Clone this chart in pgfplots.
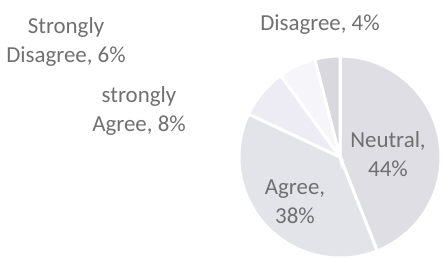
\documentclass[border=0pt]{standalone}
\usepackage{fontspec}
\setmainfont{Carlito}
\usepackage{pgfplots}
\pgfplotsset{compat=1.18}
\definecolor{cNeu}{RGB}{222,222,228}
\definecolor{cAgr}{RGB}{227,227,234}
\definecolor{cSA}{RGB}{237,236,245}
\definecolor{cSD}{RGB}{246,246,250}
\definecolor{cDis}{RGB}{216,216,222}
\definecolor{txt}{RGB}{112,112,112}
\begin{document}
\begin{tikzpicture}
\begin{axis}[at={(0,0)},anchor=south west, scale only axis,
  width=443bp, height=259bp, xmin=0, xmax=443, ymin=0, ymax=259,
  hide axis, clip=false]
% pie: Neutral 44, Agree 38, strongly Agree 8, Strongly Disagree 6, Disagree 4
\fill[cNeu, draw=white, line width=3bp] (axis cs:340,102) -- ++(90:101bp)
  arc[start angle=90, delta angle={-44*3.6}, radius=101bp] -- cycle;
\fill[cAgr, draw=white, line width=3bp] (axis cs:340,102) -- ++({90-44*3.6}:101bp)
  arc[start angle={90-44*3.6}, delta angle={-38*3.6}, radius=101bp] -- cycle;
\fill[cSA, draw=white, line width=3bp] (axis cs:340,102) -- ++({90-82*3.6}:101bp)
  arc[start angle={90-82*3.6}, delta angle={-8*3.6}, radius=101bp] -- cycle;
\fill[cSD, draw=white, line width=3bp] (axis cs:340,102) -- ++({90-90*3.6}:101bp)
  arc[start angle={90-90*3.6}, delta angle={-6*3.6}, radius=101bp] -- cycle;
\fill[cDis, draw=white, line width=3bp] (axis cs:340,102) -- ++({90-96*3.6}:101bp)
  arc[start angle={90-96*3.6}, delta angle={-4*3.6}, radius=101bp] -- cycle;
\tikzset{lab/.style={align=center, text=txt, inner sep=0pt, font=\fontsize{23}{29}\selectfont}}
\node[lab] at (axis cs:66,217) {Strongly\\Disagree, 6\%};
\node[lab] at (axis cs:139,148) {strongly\\Agree, 8\%};
\node[lab] at (axis cs:320,234) {Disagree, 4\%};
\node[lab] at (axis cs:388,105) {Neutral,\\44\%};
\node[lab] at (axis cs:295,57) {Agree,\\38\%};
\end{axis}
\pgfresetboundingbox
\path[use as bounding box] (0,0) rectangle (443bp,259bp);
\end{tikzpicture}
\end{document}
